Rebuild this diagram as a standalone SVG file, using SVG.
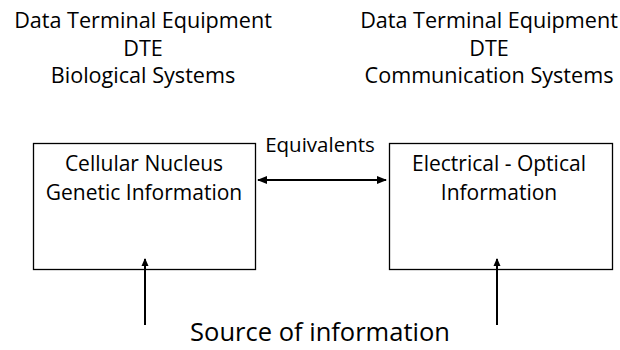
<svg xmlns="http://www.w3.org/2000/svg" width="620" height="350" viewBox="0 0 620 350">
  <style>
    text { font-family: "Open Sans", "Liberation Sans", Arial, sans-serif; fill: #000; text-anchor: middle; }
    .h { font-size: 21.6px; }
    .b { font-size: 21px; }
    .lbl { font-size: 20.5px; }
    .src { font-size: 25.5px; }
    .box { fill: #fff; stroke: #000; stroke-width: 1.3; }
    .wire { stroke: #000; stroke-width: 2; fill: none; }
  </style>
  <defs>
    <marker id="head" viewBox="0 0 10 10" refX="9" refY="5" markerWidth="5" markerHeight="5" orient="auto-start-reverse" markerUnits="strokeWidth">
      <path d="M0,1 L10,5 L0,9 Z" fill="#000"/>
    </marker>
  </defs>

  <!-- column headings -->
  <g id="dte-bio-heading">
    <text class="h" x="143" y="28">Data Terminal Equipment</text>
    <text class="h" x="143" y="56">DTE</text>
    <text class="h" x="143" y="83">Biological Systems</text>
  </g>
  <g id="dte-comm-heading">
    <text class="h" x="489" y="28">Data Terminal Equipment</text>
    <text class="h" x="489" y="56">DTE</text>
    <text class="h" x="489" y="83">Communication Systems</text>
  </g>

  <!-- nodes -->
  <g id="nucleus">
    <rect class="box" x="33.5" y="143.5" width="222" height="126"/>
    <text class="b" x="144" y="171">Cellular Nucleus</text>
    <text class="b" x="144" y="200">Genetic Information</text>
  </g>
  <g id="electro-optical">
    <rect class="box" x="389.5" y="143.5" width="223" height="126"/>
    <text class="b" x="499" y="171">Electrical - Optical</text>
    <text class="b" x="499" y="200">Information</text>
  </g>

  <!-- connectors -->
  <g id="connectors">
    <line class="wire" x1="258" y1="180" x2="386" y2="180" marker-start="url(#head)" marker-end="url(#head)"/>
    <line class="wire" x1="145" y1="325" x2="145" y2="259"/>
    <path d="M145,258 L141.5,266 L148.5,266 Z" fill="#000"/>
    <line class="wire" x1="497" y1="325" x2="497" y2="259"/>
    <path d="M497,258 L493.5,266 L500.5,266 Z" fill="#000"/>
  </g>

  <g id="labels">
    <text class="lbl" x="320" y="152">Equivalents</text>
    <text class="src" x="320" y="341">Source of information</text>
  </g>
</svg>
